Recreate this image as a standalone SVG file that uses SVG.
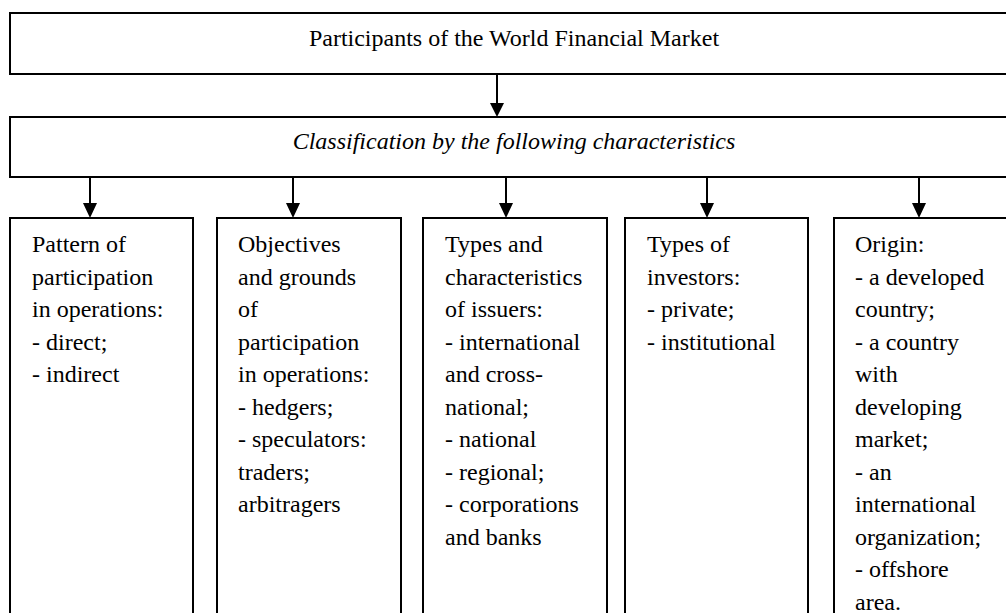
<svg xmlns="http://www.w3.org/2000/svg" width="1006" height="613" viewBox="0 0 1006 613">
  <defs>
    <style>
      .box { fill: #fff; stroke: #000; stroke-width: 2; }
      .lbl { font-family: "Liberation Serif", "Times New Roman", serif; font-size: 24px; fill: #000; }
      .ital { font-style: italic; }
      .mid { text-anchor: middle; }
      .head { fill: #000; stroke: none; }
    </style>
  </defs>
  <rect width="1006" height="613" fill="#fff"/>

  <!-- arrows: shaft plus a filled triangular head -->
  <g id="connectors" stroke="#000" stroke-width="2">
    <line x1="497" y1="74" x2="497" y2="104"/>
    <path class="head" d="M490,103 L504,103 L497,117 Z"/>
    <line x1="90" y1="177" x2="90" y2="204"/>
    <path class="head" d="M83,203 L97,203 L90,218 Z"/>
    <line x1="293" y1="177" x2="293" y2="204"/>
    <path class="head" d="M286,203 L300,203 L293,218 Z"/>
    <line x1="506" y1="177" x2="506" y2="204"/>
    <path class="head" d="M499,203 L513,203 L506,218 Z"/>
    <line x1="707" y1="177" x2="707" y2="204"/>
    <path class="head" d="M700,203 L714,203 L707,218 Z"/>
    <line x1="919" y1="177" x2="919" y2="204"/>
    <path class="head" d="M912,203 L926,203 L919,218 Z"/>
  </g>

  <g id="participants">
    <rect class="box" x="10" y="13" width="1010" height="61"/>
    <text class="lbl mid" x="514" y="46">Participants of the World Financial Market</text>
  </g>

  <g id="classification">
    <rect class="box" x="10" y="117" width="1010" height="60"/>
    <text class="lbl ital mid" x="514" y="149">Classification by the following characteristics</text>
  </g>

  <g id="pattern">
    <rect class="box" x="10" y="218" width="183" height="420"/>
    <text class="lbl" x="32" y="252">
      <tspan x="32">Pattern of</tspan>
      <tspan x="32" dy="32.5">participation</tspan>
      <tspan x="32" dy="32.5">in operations:</tspan>
      <tspan x="32" dy="32.5">- direct;</tspan>
      <tspan x="32" dy="32.5">- indirect</tspan>
    </text>
  </g>

  <g id="objectives">
    <rect class="box" x="217" y="218" width="184" height="420"/>
    <text class="lbl" x="238" y="252">
      <tspan x="238">Objectives</tspan>
      <tspan x="238" dy="32.5">and grounds</tspan>
      <tspan x="238" dy="32.5">of</tspan>
      <tspan x="238" dy="32.5">participation</tspan>
      <tspan x="238" dy="32.5">in operations:</tspan>
      <tspan x="238" dy="32.5">- hedgers;</tspan>
      <tspan x="238" dy="32.5">- speculators:</tspan>
      <tspan x="238" dy="32.5">traders;</tspan>
      <tspan x="238" dy="32.5">arbitragers</tspan>
    </text>
  </g>

  <g id="issuers">
    <rect class="box" x="423" y="218" width="184" height="420"/>
    <text class="lbl" x="445" y="252">
      <tspan x="445">Types and</tspan>
      <tspan x="445" dy="32.5">characteristics</tspan>
      <tspan x="445" dy="32.5">of issuers:</tspan>
      <tspan x="445" dy="32.5">- international</tspan>
      <tspan x="445" dy="32.5">and cross-</tspan>
      <tspan x="445" dy="32.5">national;</tspan>
      <tspan x="445" dy="32.5">- national</tspan>
      <tspan x="445" dy="32.5">- regional;</tspan>
      <tspan x="445" dy="32.5">- corporations</tspan>
      <tspan x="445" dy="32.5">and banks</tspan>
    </text>
  </g>

  <g id="investors">
    <rect class="box" x="625" y="218" width="183" height="420"/>
    <text class="lbl" x="647" y="252">
      <tspan x="647">Types of</tspan>
      <tspan x="647" dy="32.5">investors:</tspan>
      <tspan x="647" dy="32.5">- private;</tspan>
      <tspan x="647" dy="32.5">- institutional</tspan>
    </text>
  </g>

  <g id="origin">
    <rect class="box" x="834" y="218" width="190" height="420"/>
    <text class="lbl" x="855" y="252">
      <tspan x="855">Origin:</tspan>
      <tspan x="855" dy="32.5">- a developed</tspan>
      <tspan x="855" dy="32.5">country;</tspan>
      <tspan x="855" dy="32.5">- a country</tspan>
      <tspan x="855" dy="32.5">with</tspan>
      <tspan x="855" dy="32.5">developing</tspan>
      <tspan x="855" dy="32.5">market;</tspan>
      <tspan x="855" dy="32.5">- an</tspan>
      <tspan x="855" dy="32.5">international</tspan>
      <tspan x="855" dy="32.5">organization;</tspan>
      <tspan x="855" dy="32.5">- offshore</tspan>
      <tspan x="855" dy="32.5">area.</tspan>
    </text>
  </g>
</svg>
